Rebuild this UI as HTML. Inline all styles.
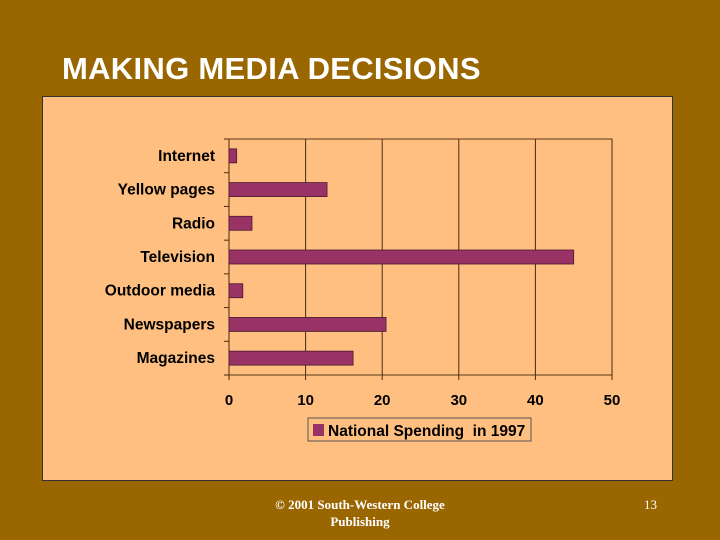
<!DOCTYPE html>
<html><head><meta charset="utf-8"><style>
body{margin:0;width:720px;height:540px;background:#996600;position:relative;overflow:hidden;font-family:"Liberation Sans",sans-serif}
#title{position:absolute;left:62px;top:51px;color:#fff;font-weight:bold;font-size:31px;letter-spacing:0.3px}
#panel{position:absolute;left:42px;top:96px;width:629px;height:383px;background:#ffbf80;border:1px solid #333}
.foot{position:absolute;color:#fff;font-family:"Liberation Serif",serif;font-size:13px}
</style></head><body>
<div id="title">MAKING MEDIA DECISIONS</div>
<div id="panel"></div>
<svg id="chart" width="720" height="540" style="position:absolute;left:0;top:0"></svg>
<div class="foot" style="left:250px;top:496px;width:220px;text-align:center;line-height:17px;font-weight:bold">© 2001 South-Western College Publishing</div>
<div class="foot" style="left:644px;top:497px">13</div>
<script>
const categories=["Internet","Yellow pages","Radio","Television","Outdoor media","Newspapers","Magazines"];
const values=[1,12.8,3,45,1.8,20.5,16.2];
const ticks=[0,10,20,30,40,50];
const seriesName="National Spending  in 1997";
const svg=document.getElementById('chart');
const NS="http://www.w3.org/2000/svg";
const x0=229,x1=612,y0=139,y1=375;
const xs=v=>x0+(v-0)/(50-0)*(x1-x0);
const band=(y1-y0)/categories.length;
function mk(t,a,p){const e=document.createElementNS(NS,t);for(const k in a)e.setAttribute(k,a[k]);(p||svg).appendChild(e);return e;}
let e=mk('rect',{x:x0,y:y0,width:x1-x0,height:y1-y0,fill:'none',stroke:'#5a3a1a','stroke-width':1});


ticks.forEach(t=>{
 let g=mk('line',{x1:xs(t),x2:xs(t),y1:y0,y2:y1+5,stroke:'#4a2a10','stroke-width':1});
 
 
 let l=mk('text',{x:xs(t),y:y1+30,'text-anchor':'middle','font-size':15,'font-weight':'bold',fill:'#000','font-family':'Liberation Sans, sans-serif'});
 l.textContent=t;
 
 
});
for(let i=0;i<=categories.length;i++){
 mk('line',{x1:x0-5,x2:x0,y1:y0+i*band,y2:y0+i*band,stroke:'#4a2a10'});
}
categories.forEach((c,i)=>{
 const cy=y0+(i+0.5)*band;
 let l=mk('text',{x:x0-14,y:cy+5,'text-anchor':'end','font-size':15.5,'font-weight':'bold',fill:'#000','font-family':'Liberation Sans, sans-serif'});
 l.textContent=c;
 
 
 let b=mk('rect',{x:x0,y:cy-7,width:xs(values[i])-x0,height:14,fill:'#993366',stroke:'#4a1a30','stroke-width':0.8});
 
 
});
let lg=mk('rect',{x:308,y:418,width:223,height:23,fill:'#ffbf80',stroke:'#555'});


let sw=mk('rect',{x:313,y:424,width:11,height:12,fill:'#993366'});


let lt=mk('text',{x:328,y:436,'font-size':15.5,'font-weight':'bold',fill:'#000','font-family':'Liberation Sans, sans-serif',style:'white-space:pre'});
lt.textContent=seriesName;


</script>
</body></html>
